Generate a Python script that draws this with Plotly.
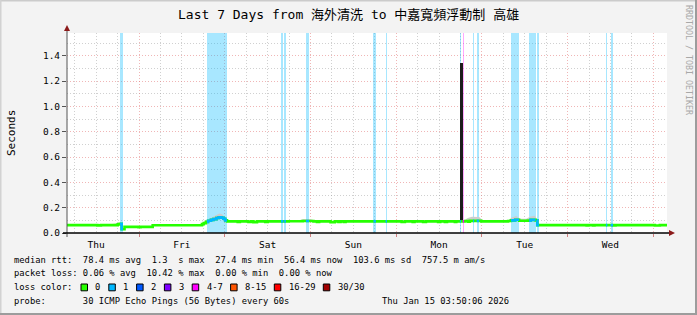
import numpy as np
import plotly.graph_objects as go
from datetime import datetime, timedelta

# ---------------- data ----------------
T0 = datetime(2026, 1, 8, 3, 50, 6)
T1 = datetime(2026, 1, 15, 3, 50, 6)

# median rtt (s): step starts in hours since T0, and value of each step
med_h = [0.0, 8.5, 9.5, 14.2, 14.7, 15.3, 16.1, 20.0, 20.6, 24.0, 37.8, 38.3, 38.9,
         39.5, 40.3, 41.0, 41.8, 42.5, 43.2, 43.8, 44.3, 44.8, 47.8, 48.4, 50.8,
         51.6, 52.2, 53.2, 55.5, 56.2, 62.0, 66.0, 69.0, 70.0, 70.6, 73.8, 75.0,
         76.0, 76.6, 77.5, 78.0, 93.7, 94.6, 96.8, 97.3, 99.7, 100.5, 103.9, 104.5,
         105.8, 106.4, 108.6, 109.0, 111.5, 112.3, 112.8, 116.0, 123.5, 124.3,
         125.5, 126.6, 129.0, 129.8, 131.2, 131.7, 145.5, 146.0, 147.3, 147.7,
         152.9, 153.6, 164.6, 166.0, 168.0]
med_v = [0.062, 0.060, 0.062, 0.068, 0.072, 0.030, 0.048, 0.046, 0.048, 0.061, 0.070,
         0.078, 0.088, 0.097, 0.104, 0.110, 0.118, 0.124, 0.120, 0.112, 0.100, 0.092,
         0.087, 0.092, 0.087, 0.092, 0.086, 0.092, 0.087, 0.092, 0.093, 0.095, 0.092,
         0.087, 0.092, 0.086, 0.092, 0.087, 0.092, 0.087, 0.092, 0.087, 0.092, 0.087,
         0.092, 0.087, 0.092, 0.087, 0.092, 0.087, 0.092, 0.087, 0.092, 0.095, 0.090,
         0.096, 0.092, 0.095, 0.100, 0.105, 0.097, 0.098, 0.104, 0.100, 0.062, 0.060,
         0.062, 0.060, 0.062, 0.060, 0.062, 0.059, 0.062, 0.062]

# smoke (ping spread) upper envelope, hours / seconds, None separates bursts
smoke_h = [8.0, 9.6, None, 12.6, 14.3, 15.0, None,
           37.6, 38.5, 39.5, 40.6, 41.8, 42.6, 43.4, 44.2, 44.9, 45.4, None,
           65.0, 66.2, 68.4, 69.4, None,
           111.3, 112.2, 113.4, 115.4, 116.4, None,
           123.6, 124.6, 125.8, 126.8, 128.6, 129.8, 131.0, 131.7]
smoke_top = [0.070, 0.070, None, 0.072, 0.076, 0.080, None,
             0.078, 0.092, 0.112, 0.128, 0.145, 0.155, 0.148, 0.125, 0.105, 0.096, None,
             0.100, 0.110, 0.108, 0.098, None,
             0.100, 0.118, 0.128, 0.126, 0.100, None,
             0.102, 0.122, 0.135, 0.112, 0.112, 0.130, 0.136, 0.105]

# packet-loss periods (hours since T0) and loss class index
loss_start = [14.84, 39.2, 59.9, 60.8, 66.9, 85.8, 89.2, 110.0, 110.8, 113.7, 114.7,
              124.3, 129.4, 131.6, 150.9, 152.2]
loss_end = [15.68, 44.8, 60.6, 61.3, 67.8, 86.5, 89.6, 110.3, 111.2, 114.0, 115.4,
            126.6, 131.2, 132.2, 151.3, 152.9]
loss_class = [1, 1, 1, 1, 1, 1, 1, 1, 4, 1, 1, 1, 1, 1, 1, 1]

# the single large outlier
spike_h = [110.55]
spike_base = [0.092]
spike_top = [1.34]

loss_labels = ["0", "1", "2", "3", "4-7", "8-15", "16-29", "30/30"]
loss_colors = ["#26ff00", "#00b8ff", "#0059ff", "#7e00ff", "#ff00ff", "#ff5500",
               "#ff0000", "#a00000"]
loss_bg = ["rgba(38,255,0,0.35)", "rgba(0,184,255,0.34)", "rgba(0,89,255,0.34)",
           "rgba(126,0,255,0.34)", "rgba(255,0,255,0.34)", "rgba(255,85,0,0.34)",
           "rgba(255,0,0,0.34)", "rgba(160,0,0,0.34)"]

title = "Last 7 Days from 海外清洗 to 中嘉寬頻浮動制 高雄"
stats_rtt = "median rtt:  78.4 ms avg  1.3  s max  27.4 ms min  56.4 ms now  103.6 ms sd  757.5 m am/s"
stats_loss = "packet loss: 0.06 % avg  10.42 % max  0.00 % min  0.00 % now"
probe_txt = "probe:       30 ICMP Echo Pings (56 Bytes) every 60s"
stamp_txt = "Thu Jan 15 03:50:06 2026"
YMAX = 1.58

# ---------------- helpers ----------------
def t(h):
    return T0 + timedelta(hours=h)

MH = np.array(med_h)
MV = np.array(med_v)

def med_at(h):
    i = int(np.searchsorted(MH, h, side="right")) - 1
    return float(MV[max(i, 0)])

L, W, TOP, H = 67, 600, 33, 200
def PX(px):
    return (px - L) / W
def PY(py):
    return (TOP + H - py) / H

MONO = "DejaVu Sans Mono, Noto Sans CJK TC, monospace"
NB = "\u00a0"
MAJ = "rgba(225,110,110,0.5)"
MIN = "rgba(150,150,150,0.45)"

fig = go.Figure()

# loss background bars
for cls in sorted(set(loss_class)):
    xs, ws = [], []
    for s, e, c in zip(loss_start, loss_end, loss_class):
        if c == cls:
            xs.append(t((s + e) / 2))
            ws.append((e - s) * 3600 * 1000)
    fig.add_trace(go.Bar(x=xs, y=[YMAX] * len(xs), width=ws, base=0,
                         marker=dict(color=loss_bg[cls], line=dict(width=0)),
                         hoverinfo="skip", showlegend=False))

# smoke
seg_h, seg_t = [], []
segs = []
for h, v in zip(smoke_h + [None], smoke_top + [None]):
    if h is None:
        if seg_h:
            segs.append((seg_h, seg_t))
        seg_h, seg_t = [], []
    else:
        seg_h.append(h)
        seg_t.append(v)
for sh, st in segs:
    lows = [med_at(h) - 0.004 for h in sh]
    fig.add_trace(go.Scatter(x=[t(h) for h in sh] + [t(h) for h in sh[::-1]],
                             y=st + lows[::-1], fill="toself", mode="lines",
                             line=dict(width=0), fillcolor="#cdcdcd",
                             hoverinfo="skip", showlegend=False))

# median line (no loss colour)
fig.add_trace(go.Scatter(x=[t(h) for h in med_h], y=med_v, mode="lines",
                         line=dict(color=loss_colors[0], width=2.6, shape="hv"),
                         hoverinfo="skip", showlegend=False))

# median segments during loss periods
for cls in sorted(set(loss_class)):
    xs, ys = [], []
    for s, e, c in zip(loss_start, loss_end, loss_class):
        if c != cls:
            continue
        pts = [s] + [h for h in med_h if s < h < e] + [e]
        for h in pts:
            xs.append(t(h))
            ys.append(med_at(h) if h != e else med_at(e - 1e-6))
        xs.append(None)
        ys.append(None)
    fig.add_trace(go.Scatter(x=xs, y=ys, mode="lines",
                             line=dict(color=loss_colors[cls], width=2.6, shape="hv"),
                             hoverinfo="skip", showlegend=False))

# outlier spike
fig.add_trace(go.Bar(x=[t(h) for h in spike_h],
                     y=[a - b for a, b in zip(spike_top, spike_base)],
                     base=spike_base, width=[0.5 * 3600 * 1000] * len(spike_h),
                     marker=dict(color="#1c1c1c", line=dict(width=0)),
                     hoverinfo="skip", showlegend=False))

# ---------------- layout ----------------
shapes = []
# frame
shapes.append(dict(type="line", xref="paper", yref="paper", x0=PX(0), x1=PX(697),
                   y0=PY(0.5), y1=PY(0.5), line=dict(color="#cbcbcb", width=2)))
shapes.append(dict(type="line", xref="paper", yref="paper", x0=PX(0.5), x1=PX(0.5),
                   y0=PY(0), y1=PY(315), line=dict(color="#d2d2d2", width=2)))
shapes.append(dict(type="line", xref="paper", yref="paper", x0=PX(696), x1=PX(696),
                   y0=PY(0), y1=PY(315), line=dict(color="#9c9c9c", width=2)))
shapes.append(dict(type="line", xref="paper", yref="paper", x0=PX(0), x1=PX(697),
                   y0=PY(314), y1=PY(314), line=dict(color="#9c9c9c", width=2)))
# axes
shapes.append(dict(type="line", xref="paper", yref="paper", x0=0, x1=0,
                   y0=PY(237), y1=PY(28), line=dict(color="#555555", width=1)))
shapes.append(dict(type="line", xref="paper", yref="paper", x0=PX(63), x1=PX(671),
                   y0=0, y1=0, line=dict(color="#000000", width=1.3)))
shapes.append(dict(type="path", xref="paper", yref="paper",
                   path=f"M {PX(64)},{PY(31)} L {PX(70)},{PY(31)} L {PX(67)},{PY(25)} Z",
                   fillcolor="#8b1a1a", line=dict(width=0)))
shapes.append(dict(type="path", xref="paper", yref="paper",
                   path=f"M {PX(669)},{PY(230)} L {PX(669)},{PY(236)} L {PX(675)},{PY(233)} Z",
                   fillcolor="#8b1a1a", line=dict(width=0)))

annotations = []
def ann(text, x, y, size, xanchor="left", color="#000000", angle=0, family=MONO):
    annotations.append(dict(text=text.replace(" ", NB), xref="paper", yref="paper",
                            x=PX(x), y=PY(y), xanchor=xanchor, yanchor="middle",
                            showarrow=False, textangle=angle,
                            font=dict(family=family, size=size, color=color)))

ann(title, 348.5, 14.5, 13, xanchor="center")
ann("Seconds", 11, 133, 11, xanchor="center", angle=-90)
ann("RRDTOOL / TOBI OETIKER", 689, 60, 8.3, xanchor="center", color="#a8a8a8", angle=90)
ann(stats_rtt, 12, 259.7, 8.8)
ann(stats_loss, 12, 273.3, 8.8)
ann("loss color:", 12, 287.3, 8.8)
ann(probe_txt, 12, 301, 8.8)
ann(stamp_txt, 510.5, 301, 8.8, xanchor="right")

# loss colour legend
bx = 81.0
for lab, col in zip(loss_labels, loss_colors):
    shapes.append(dict(type="rect", xref="paper", yref="paper",
                       x0=PX(bx), x1=PX(bx + 6.5), y0=PY(290.8), y1=PY(284.0),
                       fillcolor=col, line=dict(color="#000000", width=1)))
    ann(lab, bx + 12.3, 287.3, 8.8)
    bx = bx + 12.3 + len(lab) * 5.3 + 10.2

fig.update_layout(
    width=697, height=315, autosize=False,
    margin=dict(l=L, r=697 - L - W, t=TOP, b=315 - TOP - H, pad=0),
    paper_bgcolor="#f3f3f3", plot_bgcolor="#ffffff",
    barmode="overlay", bargap=0, showlegend=False,
    shapes=shapes, annotations=annotations,
    xaxis=dict(type="date", range=[T0, T1], tick0="2026-01-08", dtick=86400000,
               tickformat="%a", ticklabelmode="period",
               showgrid=True, gridcolor=MAJ, griddash="1px,2px", gridwidth=1,
               minor=dict(dtick=21600000, tick0="2026-01-08", showgrid=True,
                          gridcolor=MIN, griddash="1px,2px", gridwidth=1),
               ticks="outside", ticklen=3, tickcolor="#d08080",
               showline=False, zeroline=False, fixedrange=True,
               tickfont=dict(family=MONO, size=9.5, color="#000000")),
    yaxis=dict(range=[0, YMAX], tick0=0, dtick=0.2, tickformat=".1f",
               showgrid=True, gridcolor=MAJ, griddash="1px,2px", gridwidth=1,
               minor=dict(dtick=0.1, showgrid=True, gridcolor=MIN,
                          griddash="1px,2px", gridwidth=1),
               ticks="outside", ticklen=4, tickcolor="#555555",
               showline=False, zeroline=False, fixedrange=True,
               tickfont=dict(family=MONO, size=9.5, color="#000000")),
)

fig.write_html("out.html")
